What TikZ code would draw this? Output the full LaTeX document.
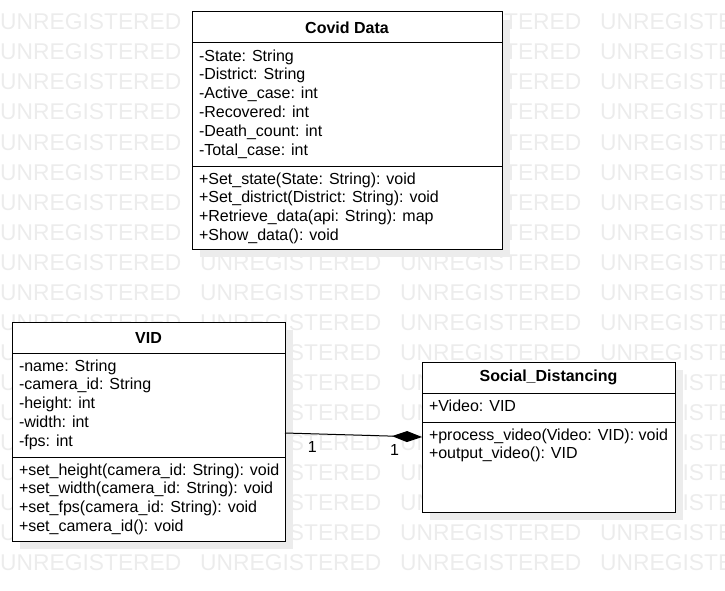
\documentclass[tikz,border=0pt]{standalone}
\usepackage{fontspec}
\setmainfont{Liberation Sans}
\usetikzlibrary{positioning,shadows,arrows.meta}
\definecolor{c_mark}{RGB}{236,236,236}
\definecolor{c_shadow}{RGB}{236,236,236}
\tikzset{classhead/.style={rectangle, draw=black, fill=white, line width=1pt, outer sep=0pt, inner sep=0pt, minimum height=31pt, font=\fontsize{16pt}{18.8pt}\selectfont\bfseries, drop shadow={shadow xshift=8pt, shadow yshift=-8pt, fill=c_shadow, opacity=1}},
classpart/.style={rectangle, draw=black, fill=white, line width=1pt, outer sep=0pt, inner xsep=7pt, inner ysep=0pt, drop shadow={shadow xshift=8pt, shadow yshift=-8pt, fill=c_shadow, opacity=1}},
watermark/.style={anchor=base west, inner sep=0pt, text=c_mark, font=\fontsize{22.8pt}{24pt}\selectfont},
comp/.style={line width=1pt, -{Diamond[length=30pt, width=11pt]}}}
\newcommand{\members}[3]{\parbox[c][#2][t]{#1}{\raggedright\rightskip=0pt plus 1fil minus 20pt\rule{0pt}{18pt}\ignorespaces#3}}

\begin{document}
\begin{tikzpicture}[x=1pt, y=-1pt, font=\fontsize{16pt}{18.8pt}\selectfont]
\useasboundingbox (0,0) rectangle (725,591);
\begin{scope}
\clip (0,0) rectangle (725,591);
\foreach \r in {0,...,18}
  \foreach \c in {0,...,3}
    \node (wm-\r-\c) [watermark] at (200*\c, 30+30*\r) {UNREGISTERED};
\end{scope}
% Covid Data
\node (covid) [classhead, minimum width=310pt, anchor=north west] at (192,12) {Covid Data};
\node (covid-attr) [classpart, below=0pt of covid] {\members{296pt}{123pt}{
-State: String\\
-District: String\\
-Active\_case: int\\
-Recovered: int\\
-Death\_count: int\\
-Total\_case: int}};
\node (covid-meth) [classpart, below=0pt of covid-attr] {\members{296pt}{83pt}{
+Set\_state(State: String): void\\
+Set\_district(District: String): void\\
+Retrieve\_data(api: String): map\\
+Show\_data(): void}};
% VID
\node (vid) [classhead, minimum width=273pt, anchor=north west] at (12,322) {VID};
\node (vid-attr) [classpart, below=0pt of vid] {\members{259pt}{104pt}{
-name: String\\
-camera\_id: String\\
-height: int\\
-width: int\\
-fps: int}};
\node (vid-meth) [classpart, below=0pt of vid-attr] {\members{259pt}{84pt}{
+set\_height(camera\_id: String): void\\
+set\_width(camera\_id: String): void\\
+set\_fps(camera\_id: String): void\\
+set\_camera\_id(): void}};
% Social_Distancing
\node (soc) [classhead, minimum width=253pt, anchor=north west] at (422,362) {Social\_Distancing};
\node (soc-attr) [classpart, below=0pt of soc] {\members{239pt}{29pt}{
+Video: VID}};
\node (soc-meth) [classpart, below=0pt of soc-attr] {\members{239pt}{90pt}{
+process\_video(Video: VID): void\\
+output\_video(): VID}};
\draw [comp] ([yshift=-28pt]vid-attr.east) -- node[below=4pt, pos=0.2] (one-a) {1} node[below=4pt, pos=0.8] (one-b) {1} ([yshift=30pt]soc-meth.west);
\end{tikzpicture}
\end{document}
